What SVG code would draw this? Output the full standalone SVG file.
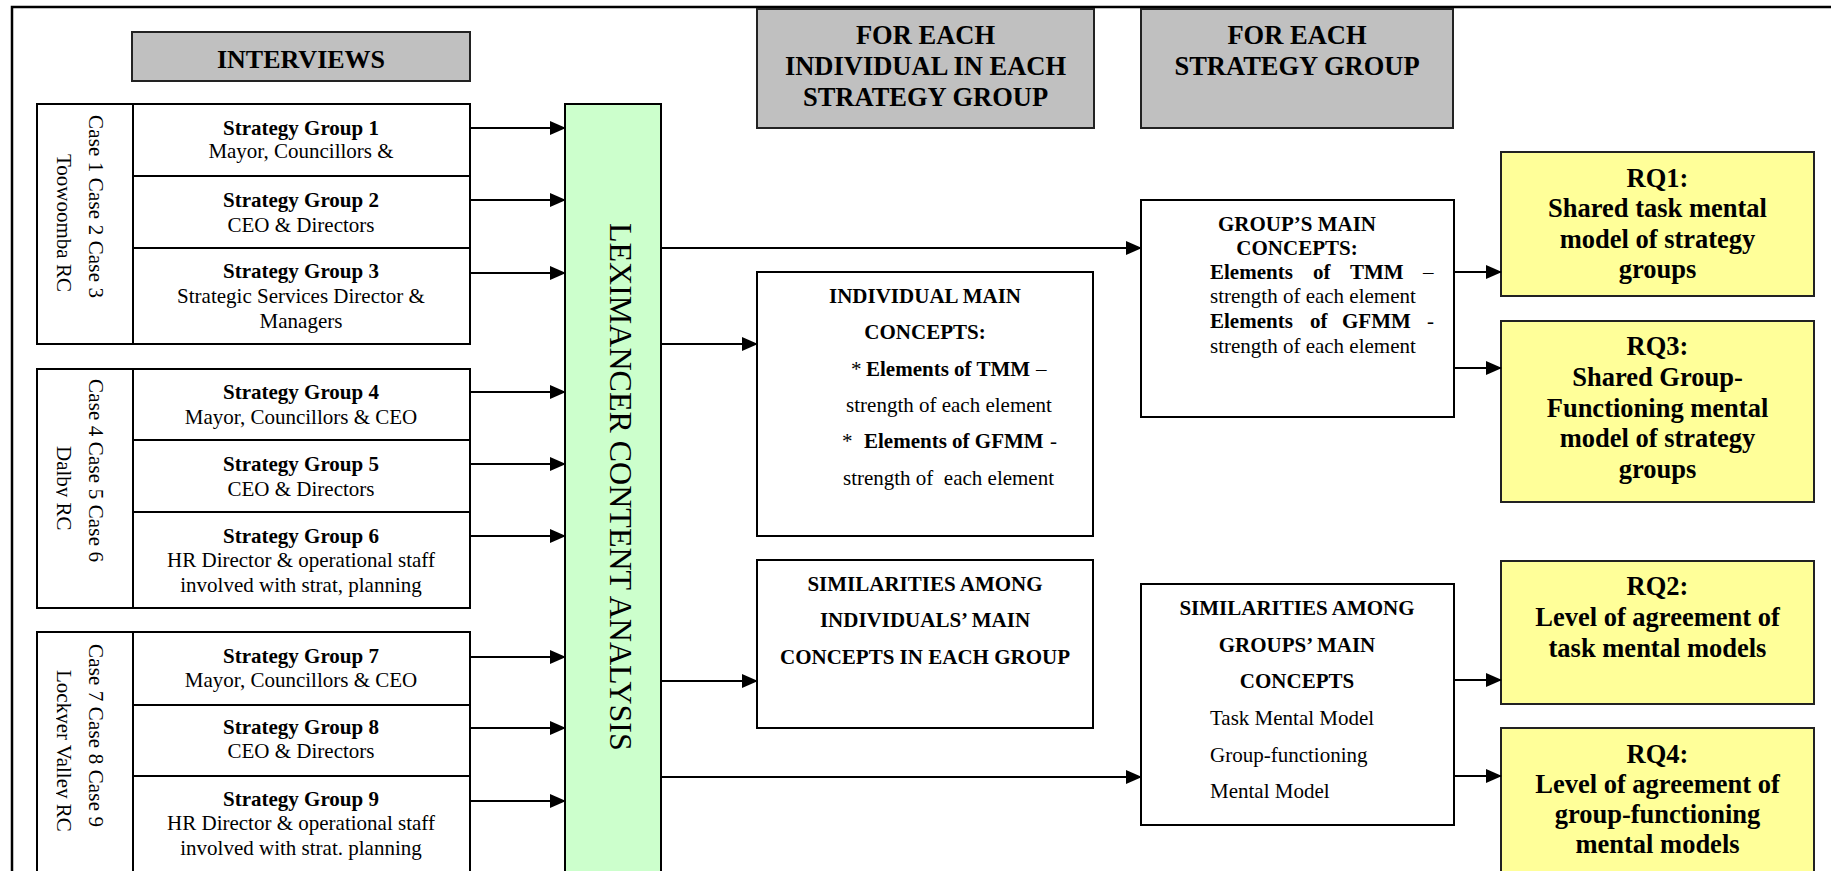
<svg xmlns="http://www.w3.org/2000/svg" width="1831" height="871" viewBox="0 0 1831 871">
<style>
text{font-family:"Liberation Serif","Times New Roman",serif;fill:#000}
.b{font-weight:bold}
.s21{font-size:21px}
.h{font-size:26.5px;font-weight:bold;text-anchor:middle}
.c{text-anchor:middle}
.box{fill:#fff;stroke:#000;stroke-width:2}
.hdr{fill:#c0c0c0;stroke:#222;stroke-width:2}
.rq{fill:#ffff99;stroke:#222;stroke-width:2}
.conn{stroke:#000;stroke-width:2.2;fill:none;marker-end:url(#arr)}
</style>
<defs>
<marker id="arr" markerUnits="userSpaceOnUse" markerWidth="16" markerHeight="14" refX="15" refY="7" orient="auto">
<path d="M0,0 L16,7 L0,14 z" fill="#000"/>
</marker>
<clipPath id="clipA"><rect x="56" y="104" width="77" height="240"/></clipPath>
<clipPath id="clipB"><rect x="56" y="369" width="77" height="239"/></clipPath>
<clipPath id="clipC"><rect x="56" y="632" width="77" height="250"/></clipPath>
</defs>
<rect x="0" y="0" width="1831" height="871" fill="#fff"/>
<g id="frame"><path d="M12,871 V7 H1831" fill="none" stroke="#000" stroke-width="2.5"/></g>

<g id="hdr-interviews"><rect class="hdr" x="132" y="32" width="338" height="49"/><text class="h" x="301" y="68" style="font-size:26px">INTERVIEWS</text></g>

<g id="case-1-3">
<rect class="box" x="37" y="104" width="96" height="240"/>
<text class="s21" transform="translate(89,115) rotate(90)" textLength="183" lengthAdjust="spacing">Case 1 Case 2 Case 3</text>
<g clip-path="url(#clipA)"><text class="s21" transform="translate(57,154) rotate(90)">Toowoomba RC</text></g>
</g>
<g id="sg1"><rect class="box" x="133" y="104" width="337" height="72"/>
<text class="s21 c b" x="301" y="135">Strategy Group 1</text><text class="s21 c" x="301" y="158">Mayor, Councillors &amp;</text></g>
<g id="sg2"><rect class="box" x="133" y="176" width="337" height="72"/>
<text class="s21 c b" x="301" y="207">Strategy Group 2</text><text class="s21 c" x="301" y="232">CEO &amp; Directors</text></g>
<g id="sg3"><rect class="box" x="133" y="248" width="337" height="96"/>
<text class="s21 c b" x="301" y="278">Strategy Group 3</text><text class="s21 c" x="301" y="303">Strategic Services Director &amp;</text><text class="s21 c" x="301" y="328">Managers</text></g>

<g id="case-4-6">
<rect class="box" x="37" y="369" width="96" height="239"/>
<text class="s21" transform="translate(89,379) rotate(90)" textLength="183" lengthAdjust="spacing">Case 4 Case 5 Case 6</text>
<g clip-path="url(#clipB)"><text class="s21" transform="translate(57,446) rotate(90)">Dalby RC</text></g>
</g>
<g id="sg4"><rect class="box" x="133" y="369" width="337" height="71"/>
<text class="s21 c b" x="301" y="399">Strategy Group 4</text><text class="s21 c" x="301" y="424">Mayor, Councillors &amp; CEO</text></g>
<g id="sg5"><rect class="box" x="133" y="440" width="337" height="72"/>
<text class="s21 c b" x="301" y="471">Strategy Group 5</text><text class="s21 c" x="301" y="496">CEO &amp; Directors</text></g>
<g id="sg6"><rect class="box" x="133" y="512" width="337" height="96"/>
<text class="s21 c b" x="301" y="543">Strategy Group 6</text><text class="s21 c" x="301" y="567">HR Director &amp; operational staff</text><text class="s21 c" x="301" y="592">involved with strat, planning</text></g>

<g id="case-7-9">
<rect class="box" x="37" y="632" width="96" height="260"/>
<text class="s21" transform="translate(89,644) rotate(90)" textLength="183" lengthAdjust="spacing">Case 7 Case 8 Case 9</text>
<g clip-path="url(#clipC)"><text class="s21" transform="translate(57,670) rotate(90)">Lockyer Valley RC</text></g>
</g>
<g id="sg7"><rect class="box" x="133" y="632" width="337" height="73"/>
<text class="s21 c b" x="301" y="663">Strategy Group 7</text><text class="s21 c" x="301" y="687">Mayor, Councillors &amp; CEO</text></g>
<g id="sg8"><rect class="box" x="133" y="705" width="337" height="71"/>
<text class="s21 c b" x="301" y="734">Strategy Group 8</text><text class="s21 c" x="301" y="758">CEO &amp; Directors</text></g>
<g id="sg9"><rect class="box" x="133" y="776" width="337" height="120"/>
<text class="s21 c b" x="301" y="806">Strategy Group 9</text><text class="s21 c" x="301" y="830">HR Director &amp; operational staff</text><text class="s21 c" x="301" y="855">involved with strat. planning</text></g>

<g id="leximancer"><rect x="565" y="104" width="96" height="800" fill="#ccffcc" stroke="#000" stroke-width="2"/>
<text transform="translate(610,223) rotate(90)" style="font-size:32px">LEXIMANCER CONTENT ANALYSIS</text></g>

<g id="hdr-individual"><rect class="hdr" x="757" y="9" width="337" height="119"/>
<text class="h" x="925.5" y="44">FOR EACH</text><text class="h" x="925.5" y="75">INDIVIDUAL IN EACH</text><text class="h" x="925.5" y="106">STRATEGY GROUP</text></g>

<g id="hdr-group"><rect class="hdr" x="1141" y="9" width="312" height="119"/>
<text class="h" x="1297" y="44">FOR EACH</text><text class="h" x="1297" y="75">STRATEGY GROUP</text></g>

<g id="individual-main"><rect class="box" x="757" y="272" width="336" height="264"/>
<text class="s21 c b" x="925" y="303">INDIVIDUAL MAIN</text>
<text class="s21 c b" x="925" y="339">CONCEPTS:</text>
<text class="s21" y="376"><tspan x="851">*</tspan><tspan x="866" class="b">Elements of TMM</tspan><tspan x="1036">–</tspan></text>
<text class="s21 c" x="949" y="412">strength of each element</text>
<text class="s21" y="448"><tspan x="842">*</tspan><tspan x="864" class="b">Elements of GFMM</tspan><tspan x="1050">-</tspan></text>
<text class="s21 c" x="948.5" y="485" xml:space="preserve">strength of  each element</text></g>

<g id="individual-similarities"><rect class="box" x="757" y="560" width="336" height="168"/>
<text class="s21 c b" x="925" y="591">SIMILARITIES AMONG</text>
<text class="s21 c b" x="925" y="627">INDIVIDUALS’ MAIN</text>
<text class="s21 c b" x="925" y="664">CONCEPTS IN EACH GROUP</text></g>

<g id="group-main"><rect class="box" x="1141" y="200" width="313" height="217"/>
<text class="s21 c b" x="1297" y="231">GROUP’S MAIN</text>
<text class="s21 c b" x="1297" y="255">CONCEPTS:</text>
<text class="s21" y="279"><tspan class="b" x="1210">Elements</tspan><tspan class="b" x="1313">of</tspan><tspan class="b" x="1350">TMM</tspan><tspan x="1423">–</tspan></text>
<text class="s21" x="1210" y="303">strength of each element</text>
<text class="s21" y="328"><tspan class="b" x="1210">Elements</tspan><tspan class="b" x="1310">of</tspan><tspan class="b" x="1342">GFMM</tspan><tspan x="1427">-</tspan></text>
<text class="s21" x="1210" y="353">strength of each element</text></g>

<g id="group-similarities"><rect class="box" x="1141" y="584" width="313" height="241"/>
<text class="s21 c b" x="1297" y="615">SIMILARITIES AMONG</text>
<text class="s21 c b" x="1297" y="652">GROUPS’ MAIN</text>
<text class="s21 c b" x="1297" y="688">CONCEPTS</text>
<text class="s21" x="1210" y="725">Task Mental Model</text>
<text class="s21" x="1210" y="762">Group-functioning</text>
<text class="s21" x="1210" y="798">Mental Model</text></g>

<g id="rq1"><rect class="rq" x="1501" y="152" width="313" height="144"/>
<text class="h" x="1657.5" y="187">RQ1:</text><text class="h" x="1657.5" y="217">Shared task mental</text><text class="h" x="1657.5" y="248">model of strategy</text><text class="h" x="1657.5" y="278">groups</text></g>
<g id="rq3"><rect class="rq" x="1501" y="321" width="313" height="181"/>
<text class="h" x="1657.5" y="355">RQ3:</text><text class="h" x="1657.5" y="386">Shared Group-</text><text class="h" x="1657.5" y="417">Functioning mental</text><text class="h" x="1657.5" y="447">model of strategy</text><text class="h" x="1657.5" y="478">groups</text></g>
<g id="rq2"><rect class="rq" x="1501" y="561" width="313" height="143"/>
<text class="h" x="1657.5" y="595">RQ2:</text><text class="h" x="1657.5" y="626">Level of agreement of</text><text class="h" x="1657.5" y="657">task mental models</text></g>
<g id="rq4"><rect class="rq" x="1501" y="728" width="313" height="200"/>
<text class="h" x="1657.5" y="763">RQ4:</text><text class="h" x="1657.5" y="793">Level of agreement of</text><text class="h" x="1657.5" y="823">group-functioning</text><text class="h" x="1657.5" y="853">mental models</text></g>

<g id="connectors">
<line class="conn" x1="470" y1="128" x2="565" y2="128"/>
<line class="conn" x1="470" y1="200" x2="565" y2="200"/>
<line class="conn" x1="470" y1="273" x2="565" y2="273"/>
<line class="conn" x1="470" y1="392" x2="565" y2="392"/>
<line class="conn" x1="470" y1="464" x2="565" y2="464"/>
<line class="conn" x1="470" y1="536" x2="565" y2="536"/>
<line class="conn" x1="470" y1="657" x2="565" y2="657"/>
<line class="conn" x1="470" y1="728" x2="565" y2="728"/>
<line class="conn" x1="470" y1="801" x2="565" y2="801"/>
<line class="conn" x1="661" y1="248" x2="1141" y2="248"/>
<line class="conn" x1="661" y1="344" x2="757" y2="344"/>
<line class="conn" x1="661" y1="681" x2="757" y2="681"/>
<line class="conn" x1="661" y1="777" x2="1141" y2="777"/>
<line class="conn" x1="1454" y1="272" x2="1501" y2="272"/>
<line class="conn" x1="1454" y1="368" x2="1501" y2="368"/>
<line class="conn" x1="1454" y1="680" x2="1501" y2="680"/>
<line class="conn" x1="1454" y1="776" x2="1501" y2="776"/>
</g>
</svg>
